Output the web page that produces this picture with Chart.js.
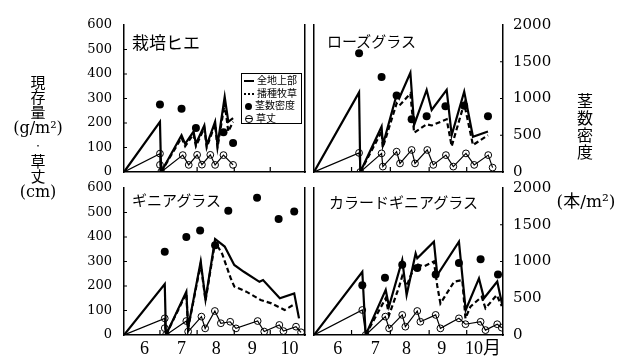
<!DOCTYPE html>
<html>
<head>
<meta charset="utf-8">
<script src="https://cdn.jsdelivr.net/npm/chart.js@4.4.0/dist/chart.umd.min.js"></script>
<style>
html, body { margin: 0; padding: 0; background: #fff; }
#wrap { position: relative; width: 621px; height: 359px; overflow: hidden; }
#wrap canvas { position: absolute; left: 0; top: 0; }
.t { position: absolute; color: #000; white-space: nowrap; font-family: 'Noto Sans CJK JP', sans-serif; }
.serif { font-family: 'DejaVu Serif', 'Noto Sans CJK JP', serif; }
#legend { position: absolute; left: 241px; top: 73px; width: 61px; height: 51px; border: 1px solid #000; background: #fff;
  font-family: 'Noto Sans CJK JP', sans-serif; font-size: 10px; line-height: 12.5px; box-sizing: border-box; }
#legend div { height: 12.5px; white-space: nowrap; }
#legend span.s { display: inline-block; width: 10px; margin: 0 3px 0 2px; vertical-align: middle; }
.s1 { border-top: 2.5px solid #000; }
.s2 { border-top: 2px dotted #000; }
.s3 { height: 7px; width: 7px !important; border-radius: 50%; background: #000; margin-left: 3px !important; margin-right: 3px !important; }
.s4 { height: 6px; width: 6px !important; border: 1px solid #000; border-radius: 50%; margin-left: 3px !important; margin-right: 3px !important;
  background: linear-gradient(#000, #000) center / 100% 1px no-repeat; }
</style>
</head>
<body>
<div id="wrap">
  <canvas id="c1" width="621" height="359"></canvas>
  <canvas id="c2" width="621" height="359"></canvas>
  <canvas id="c3" width="621" height="359"></canvas>
  <canvas id="c4" width="621" height="359"></canvas>

  <div class="t" style="left:132px;top:29px;font-size:17px;">栽培ヒエ</div>
  <div class="t" style="left:327px;top:30px;font-size:15px;">ローズグラス</div>
  <div class="t" style="left:132px;top:189px;font-size:15px;">ギニアグラス</div>
  <div class="t" style="left:329px;top:191px;font-size:15px;">カラードギニアグラス</div>

  <div class="t" style="left:0;top:74px;width:76px;text-align:center;font-size:15px;line-height:15px;">
    現<br>存<br>量<br><span class="serif" style="font-size:16px">(g/m²)</span><br><span style="font-size:8px">・</span><br>草<br>丈<br><span class="serif" style="font-size:16px">(cm)</span>
  </div>
  <div class="t" style="left:565px;top:92px;width:40px;text-align:center;font-size:16px;line-height:17px;">茎<br>数<br>密<br>度</div>
  <div class="t serif" style="left:550px;top:187px;width:72px;text-align:center;font-size:17px;">(本/m²)</div>

  <div id="legend">
    <div><span class="s s1"></span>全地上部</div>
    <div><span class="s s2"></span>播種牧草</div>
    <div><span class="s s3"></span>茎数密度</div>
    <div><span class="s s4"></span>草丈</div>
  </div>
</div>

<script>
// x values are days counted from June 1; left axis g/m2 (or cm), right axis stems/m2
const monthStarts = [30, 61, 92, 122];
const monthMidsLeft = [17, 48, 77, 107, 138];
const monthMidsRight = [19, 49, 74, 102, 135];
const monthLabelsLeft = ['6', '7', '8', '9', '10'];
const monthLabelsRight = ['6', '7', '8', '9', '10月'];
const gramTicks = [100, 200, 300, 400, 500];
const stemTicks = [500, 1000, 1500];

// 栽培ヒエ
const hieTotal = [[0,0],[30,205],[31,0],[48,150],[51,115],[58,165],[60,115],[67,190],[69,110],[76,205],[78,110],[84,307],[87,205],[91,220]];
const hieSown = [[31,0],[48,140],[51,105],[58,155],[60,105],[67,180],[69,100],[76,195],[78,100],[84,280],[87,165],[91,205]];
const hieDensity = [[30,920],[48,860],[60,600],[83,540],[91,395]];
const hieHeight = [[0,0],[30,75],[30,29],[31,0],[49,69],[54,29],[61,70],[65,30],[72,70],[76,29],[83,69],[91,29]];

// ローズグラス
const roseTotal = [[0,0],[36,325],[37,0],[54,185],[55,110],[66,315],[68,300],[77,405],[80,192],[90,335],[94,253],[106,335],[110,151],[120,328],[127,144],[139,165]];
const roseSown = [[37,0],[54,165],[55,100],[66,280],[68,270],[77,320],[80,160],[90,195],[94,190],[106,215],[110,105],[120,280],[127,110],[139,150]];
const roseDensity = [[36,1617],[54,1293],[66,1040],[78,716],[90,760],[105,893],[120,900],[139,760]];
const roseHeight = [[0,0],[36,78],[37,0],[54,76],[55,22],[66,83],[68.7,35],[78,90],[80.7,35],[90.5,90],[95.3,29],[105.4,69],[111.3,22],[121.4,76],[128,29],[139.2,69],[142.7,18]];

// ギニアグラス
const guineaTotal = [[0,0],[34,208],[35,0],[52,177],[53.5,30],[64,300],[68,145],[76,392],[84,361],[92,286],[100,258],[113,217],[116,224],[130,150],[142,170],[146,68]];
const guineaSown = [[35,0],[52,170],[53.5,28],[64,290],[68,140],[76,380],[82,330],[89,232],[92,198],[102,177],[114,143],[123,129],[134,102],[141,122]];
const guineaDensity = [[34,1133],[52,1333],[63.5,1422],[76,1222],[87,1689],[111,1867],[129,1578],[142,1680]];
const guineaHeight = [[0,0],[34,68],[34,28],[35,0],[52,57],[53.5,14],[64.6,75],[67.7,27],[75.8,98],[80.8,48],[88.6,54],[93.4,27],[111.5,57],[117,14],[129.6,41],[133,16],[143.5,34],[147.7,11]];

// カラードギニアグラス
const coloredTotal = [[0,0],[38.6,258],[41.3,0],[57.3,184],[59.9,116],[70.5,306],[74,163],[81.2,333],[82.5,313],[95.8,381],[98.5,245],[115.8,381],[121.2,102],[131.8,231],[135.8,150],[146.4,218],[150.4,122]];
const coloredSown = [[41.3,0],[57.3,150],[60,82],[68,197],[70.5,240],[74,200],[81,290],[88,280],[95.8,300],[98.5,200],[101,129],[112,218],[118.5,224],[121,68],[125,116],[134,156],[137,109],[146,163],[150,118]];
const coloredDensity = [[38.6,676],[56.7,778],[70.5,956],[82.5,911],[97.2,822],[115.8,978],[133.1,1031],[147,822]];
const coloredHeight = [[0,0],[38.6,102],[41.3,0],[57,75],[60,27],[70.5,82],[73,34],[82.5,98],[85,54],[97.2,82],[101,27],[115.8,68],[121,44],[133.1,54],[137,20],[146.4,44],[150,30]];

const tickFont = { family: "'DejaVu Serif', serif", size: 13 };
const rightFont = { family: "'DejaVu Serif', serif", size: 15 };
const monthFont = { family: "'Liberation Serif', 'Noto Sans CJK JP', serif", size: 18 };

const toXY = arr => arr.map(p => ({ x: p[0], y: p[1] }));

// small tick marks drawn on the inside of the frame
const inwardTicks = {
  id: 'inwardTicks',
  afterDraw(chart, args, opts) {
    const { ctx, chartArea: a, scales } = chart;
    ctx.save();
    ctx.strokeStyle = '#000';
    ctx.lineWidth = 1.2;
    ctx.beginPath();
    monthStarts.forEach(d => {
      const x = scales.x.getPixelForValue(d);
      ctx.moveTo(x, a.bottom);
      ctx.lineTo(x, a.bottom - 5);
    });
    if (opts.left) {
      gramTicks.forEach(v => {
        const y = scales.y.getPixelForValue(v);
        ctx.moveTo(a.left, y);
        ctx.lineTo(a.left + 3, y);
      });
    }
    if (opts.right) {
      stemTicks.forEach(v => {
        const y = scales.y2.getPixelForValue(v);
        ctx.moveTo(a.right, y);
        ctx.lineTo(a.right - 3, y);
      });
    }
    ctx.stroke();
    ctx.restore();
  }
};

function makePanel(id, p) {
  const datasets = [
    { data: toXY(p.total), borderColor: '#000', borderWidth: 2.2, pointRadius: 0, yAxisID: 'y' },
    { data: toXY(p.sown), borderColor: '#000', borderWidth: 2.2, borderDash: [5, 3], pointRadius: 0, yAxisID: 'y' },
    // plant height: the line, then its open circles (first point is the origin, no marker)
    { data: toXY(p.height), borderColor: '#000', borderWidth: 1.2, pointRadius: 0, yAxisID: 'y' },
    { data: toXY(p.height.slice(1)), showLine: false, yAxisID: 'y',
      pointRadius: 3.4, pointBackgroundColor: 'rgba(0,0,0,0)', pointBorderColor: '#000', pointBorderWidth: 1 },
    { data: toXY(p.density), showLine: false, yAxisID: 'y2',
      pointRadius: 4, pointBackgroundColor: '#000', pointBorderColor: '#000', pointBorderWidth: 0 }
  ];

  new Chart(document.getElementById(id), {
    type: 'line',
    data: { datasets: datasets },
    options: {
      responsive: false,
      animation: false,
      layout: { padding: p.pad },
      plugins: {
        legend: { display: false },
        tooltip: { enabled: false },
        inwardTicks: { left: p.leftLabels, right: p.rightLabels }
      },
      scales: {
        x: {
          type: 'linear', min: 0, max: 151,
          grid: { display: false, drawTicks: false },
          border: { display: true, color: '#000', width: 1.5 },
          afterBuildTicks: s => { s.ticks = p.mids.map(v => ({ value: v })); },
          ticks: {
            display: !!p.months, padding: 3, color: '#000', font: monthFont,
            autoSkip: false, maxRotation: 0,
            callback: (v, i) => p.months ? p.months[i] : ''
          },
          afterFit: s => { s.height = p.months ? 24 : 0; }
        },
        y: {
          position: 'left', min: 0, max: 600,
          grid: { display: false, drawTicks: false },
          border: { display: true, color: '#000', width: 1.5 },
          ticks: { display: p.leftLabels, stepSize: 100, padding: 12, color: '#000', font: tickFont, autoSkip: false,
            callback: v => String(v) },
          afterFit: s => { s.width = p.leftLabels ? 40 : 0; }
        },
        y2: {
          position: 'right', min: 0, max: 2000,
          grid: { display: false, drawTicks: false },
          border: { display: true, color: '#000', width: 1.5 },
          ticks: { display: p.rightLabels, stepSize: 500, padding: 10, color: '#000', font: rightFont, autoSkip: false,
            callback: v => String(v) },
          afterFit: s => { s.width = p.rightLabels ? 55 : 0; }
        }
      }
    },
    plugins: [inwardTicks]
  });
}

makePanel('c1', { total: hieTotal, sown: hieSown, density: hieDensity, height: hieHeight,
  leftLabels: true, rightLabels: false, months: null, mids: monthMidsLeft,
  pad: { left: 84, right: 316, top: 25, bottom: 187 } });
makePanel('c2', { total: roseTotal, sown: roseSown, density: roseDensity, height: roseHeight,
  leftLabels: false, rightLabels: true, months: null, mids: monthMidsRight,
  pad: { left: 314, right: 63, top: 25, bottom: 187 } });
makePanel('c3', { total: guineaTotal, sown: guineaSown, density: guineaDensity, height: guineaHeight,
  leftLabels: true, rightLabels: false, months: monthLabelsLeft, mids: monthMidsLeft,
  pad: { left: 84, right: 316, top: 188, bottom: 0 } });
makePanel('c4', { total: coloredTotal, sown: coloredSown, density: coloredDensity, height: coloredHeight,
  leftLabels: false, rightLabels: true, months: monthLabelsRight, mids: monthMidsRight,
  pad: { left: 314, right: 63, top: 188, bottom: 0 } });
</script>
</body>
</html>
